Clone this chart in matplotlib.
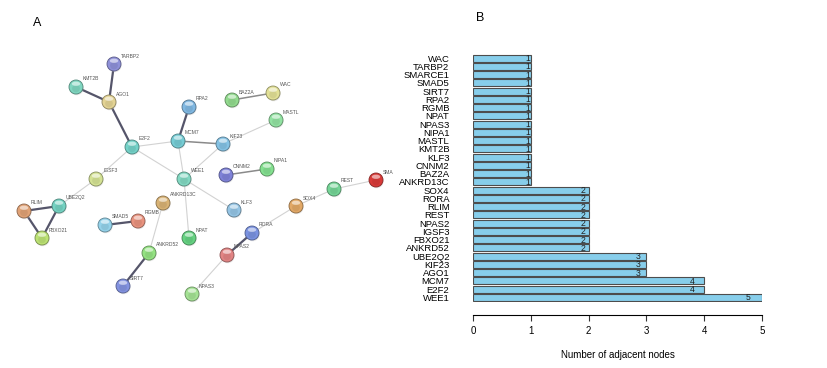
import matplotlib
matplotlib.use("Agg")
import matplotlib.pyplot as plt
from matplotlib.patches import Circle, Ellipse
from matplotlib.colors import to_rgb

plt.rcParams["font.family"] = ["Liberation Sans", "DejaVu Sans"]

# ---------------- panel B data ----------------
genes = ["WAC", "TARBP2", "SMARCE1", "SMAD5", "SIRT7", "RPA2", "RGMB", "NPAT",
         "NPAS3", "NIPA1", "MASTL", "KMT2B", "KLF3", "CNNM2", "BAZ2A", "ANKRD13C",
         "SOX4", "RORA", "RLIM", "REST", "NPAS2", "IGSF3", "FBXO21", "ANKRD52",
         "UBE2Q2", "KIF23", "AGO1", "MCM7", "E2F2", "WEE1"]
degree = [1, 1, 1, 1, 1, 1, 1, 1, 1, 1, 1, 1, 1, 1, 1, 1,
          2, 2, 2, 2, 2, 2, 2, 2, 3, 3, 3, 4, 4, 5]

# ---------------- panel A network (layout) ----------------
node_pos = {
    "TARBP2": (114, 64), "KMT2B": (76, 87), "AGO1": (109, 102), "E2F2": (132, 147),
    "MCM7": (178, 141), "RPA2": (189, 107), "IGSF3": (96, 179), "WEE1": (184, 179),
    "BAZ2A": (232, 100), "WAC": (273, 93), "MASTL": (276, 120), "KIF23": (223, 144),
    "CNNM2": (226, 175), "NIPA1": (267, 169), "SMARCE1": (376, 180), "REST": (334, 189),
    "SOX4": (296, 206), "KLF3": (234, 210), "RLIM": (24, 211), "UBE2Q2": (59, 206),
    "FBXO21": (42, 238), "SMAD5": (105, 225), "RGMB": (138, 221), "ANKRD13C": (163, 203),
    "ANKRD52": (149, 253), "SIRT7": (123, 286), "NPAT": (189, 238), "RORA": (252, 233),
    "NPAS2": (227, 255), "NPAS3": (192, 294),
}
node_color = {
    "TARBP2": "#8e90d8", "KMT2B": "#7fd6c0", "AGO1": "#e3d394", "E2F2": "#74d2c8",
    "MCM7": "#76ccd4", "RPA2": "#80b8e2", "IGSF3": "#d4e294", "WEE1": "#82d8c2",
    "BAZ2A": "#92da8e", "WAC": "#e2e096", "MASTL": "#92e2a2", "KIF23": "#84c2e4",
    "CNNM2": "#7f82d8", "NIPA1": "#84e090", "SMARCE1": "#d83a38", "REST": "#74d496",
    "SOX4": "#e2a866", "KLF3": "#94c4e4", "RLIM": "#e0a276", "UBE2Q2": "#74d2c2",
    "FBXO21": "#bce274", "SMAD5": "#94d2ea", "RGMB": "#e8927e", "ANKRD13C": "#d8b274",
    "ANKRD52": "#94e282", "SIRT7": "#8292e0", "NPAT": "#66d282", "RORA": "#7a92e0",
    "NPAS2": "#e28484", "NPAS3": "#a4e294",
}
# (a, b, strength) strength: 0 light, 1 medium, 2 strong
edges = [
    ("TARBP2", "AGO1", 2), ("KMT2B", "AGO1", 2), ("AGO1", "E2F2", 2),
    ("E2F2", "MCM7", 0), ("E2F2", "WEE1", 0), ("E2F2", "IGSF3", 0),
    ("IGSF3", "UBE2Q2", 0), ("UBE2Q2", "RLIM", 2), ("UBE2Q2", "FBXO21", 2),
    ("RLIM", "FBXO21", 2), ("MCM7", "RPA2", 2), ("MCM7", "KIF23", 1),
    ("MCM7", "WEE1", 0), ("KIF23", "MASTL", 0), ("KIF23", "WEE1", 0),
    ("BAZ2A", "WAC", 1), ("CNNM2", "NIPA1", 1), ("WEE1", "KLF3", 0),
    ("WEE1", "NPAT", 0), ("ANKRD13C", "ANKRD52", 0), ("ANKRD52", "SIRT7", 2),
    ("SMAD5", "RGMB", 2), ("SOX4", "REST", 0), ("REST", "SMARCE1", 0),
    ("SOX4", "RORA", 0), ("RORA", "NPAS2", 2), ("NPAS2", "NPAS3", 0),
]
edge_style = {0: ("#d2d2d2", 0.8), 1: ("#8a8a8a", 1.1), 2: ("#55556a", 1.6)}

fig = plt.figure(figsize=(8.27, 3.68), dpi=100)

# ---------------- panel A ----------------
axA = fig.add_axes([0, 0, 393 / 827, 1])
axA.set_xlim(0, 393)
axA.set_ylim(368, 0)
axA.axis("off")

for a, b, s in edges:
    (x1, y1), (x2, y2) = node_pos[a], node_pos[b]
    c, lw = edge_style[s]
    axA.plot([x1, x2], [y1, y2], color=c, lw=lw, zorder=1, solid_capstyle="round")

r = 7
for name, (x, y) in node_pos.items():
    base = to_rgb(node_color[name])
    dark = tuple(v * 0.62 for v in base)
    axA.add_patch(Circle((x + 0.6, y + 1.2), r, color="#b0b0b0", alpha=0.35, lw=0, zorder=2))
    axA.add_patch(Circle((x, y), r, facecolor=base, edgecolor=dark, lw=0.6, zorder=3))
    axA.add_patch(Circle((x, y + 1.5), r * 0.55, facecolor=dark, alpha=0.18, lw=0, zorder=4))
    axA.add_patch(Ellipse((x, y - 3.2), r * 1.2, r * 0.6, facecolor="white", alpha=0.55, lw=0, zorder=5))
    axA.text(x + 7, y - 8, name, fontsize=3.6, color="#555555",
             ha="left", va="center", zorder=6, clip_on=True)

fig.text(37 / 827, 1 - 23 / 368, "A", fontsize=9, ha="center", va="center")

# ---------------- panel B ----------------
n = len(genes)
axB = fig.add_axes([473 / 827, 1 - 301.5 / 368, 289 / 827, 247.5 / 368])
ypos = list(range(n - 1, -1, -1))
axB.barh(ypos, degree, height=0.83, color="#87ceeb", edgecolor="#4d4d4d", linewidth=0.8)
for yy, v in zip(ypos, degree):
    axB.text(v * 0.95, yy - 0.05, str(v), ha="center", va="center", fontsize=6.2, color="#222222")

axB.set_ylim(-0.5, n - 0.5)
axB.set_xlim(0, 5)
axB.set_yticks(ypos)
axB.set_yticklabels(genes, fontsize=6.8)
axB.tick_params(axis="y", length=0, pad=17)
axB.set_xticks(range(6))
axB.tick_params(axis="x", labelsize=7, length=4, width=0.8, pad=4, color="#333333")
for sp in ["left", "top", "right"]:
    axB.spines[sp].set_visible(False)
axB.spines["bottom"].set_position(("outward", 10))
axB.spines["bottom"].set_bounds(0, 5)
axB.spines["bottom"].set_linewidth(0.8)
axB.set_xlabel("Number of adjacent nodes", fontsize=7, labelpad=10)

fig.text(480 / 827, 1 - 18 / 368, "B", fontsize=9, ha="center", va="center")

fig.savefig("out.png", dpi=100)
